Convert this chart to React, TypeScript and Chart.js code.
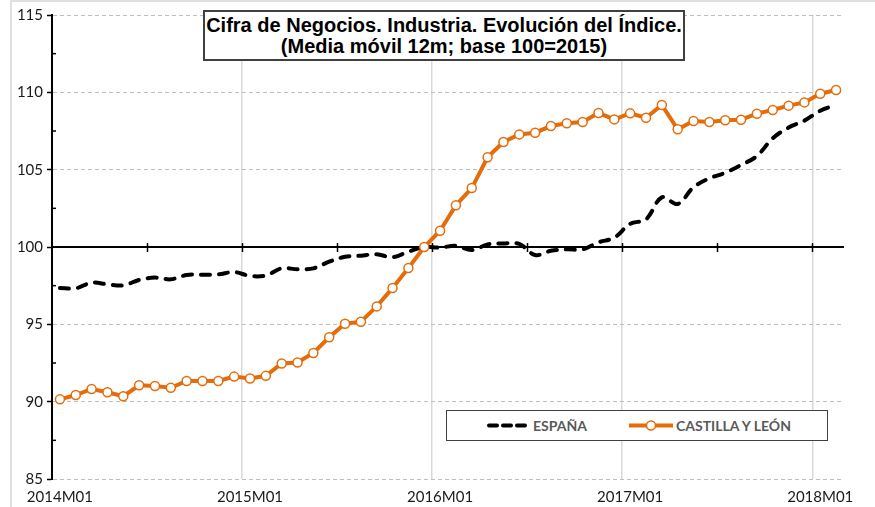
import React, { useEffect, useRef } from "react";
import { Chart, registerables } from "chart.js";

Chart.register(...registerables);

const labels: string[] = [
  "2014M01", "2014M02", "2014M03", "2014M04", "2014M05", "2014M06", "2014M07", "2014M08", "2014M09", "2014M10", "2014M11", "2014M12",
  "2015M01", "2015M02", "2015M03", "2015M04", "2015M05", "2015M06", "2015M07", "2015M08", "2015M09", "2015M10", "2015M11", "2015M12",
  "2016M01", "2016M02", "2016M03", "2016M04", "2016M05", "2016M06", "2016M07", "2016M08", "2016M09", "2016M10", "2016M11", "2016M12",
  "2017M01", "2017M02", "2017M03", "2017M04", "2017M05", "2017M06", "2017M07", "2017M08", "2017M09", "2017M10", "2017M11", "2017M12",
  "2018M01", "2018M02",
];

const espana: number[] = [
  97.35, 97.33, 97.69, 97.59, 97.52, 97.87, 98.02, 97.91, 98.19, 98.21, 98.23, 98.38,
  98.13, 98.16, 98.62, 98.56, 98.62, 99.05, 99.37, 99.44, 99.53, 99.34, 99.70, 100.0,
  99.96, 100.08, 99.80, 100.17, 100.23, 100.20, 99.48, 99.76, 99.85, 99.85, 100.30, 100.60,
  101.50, 101.79, 103.21, 102.78, 103.86, 104.44, 104.80, 105.30, 105.88, 107.03, 107.72, 108.17,
  108.81, 109.18,
];

const castillaLeon: number[] = [
  90.15, 90.43, 90.82, 90.61, 90.35, 91.06, 91.01, 90.90, 91.34, 91.34, 91.34, 91.62,
  91.50, 91.67, 92.47, 92.53, 93.15, 94.16, 95.04, 95.17, 96.16, 97.35, 98.64, 100.0,
  101.05, 102.70, 103.81, 105.80, 106.79, 107.28, 107.39, 107.82, 108.00, 108.08, 108.66, 108.25,
  108.64, 108.36, 109.18, 107.61, 108.15, 108.08, 108.19, 108.23, 108.62, 108.86, 109.14, 109.35,
  109.91, 110.15,
];

const seriesNames = ["ESPAÑA", "CASTILLA Y LEÓN"];
const titleLines = ["Cifra de Negocios. Industria. Evolución del Índice.", "(Media móvil 12m; base 100=2015)"];

const ORANGE = "#E46C0A";
const TICK_FONT = "Lato, 'Open Sans', sans-serif";

const midAxisPlugin = {
  id: "midAxis",
  beforeDatasetsDraw(chart: any) {
    const { ctx, chartArea, scales } = chart;
    const xs = scales.x;
    const ys = scales.y;
    const y0 = ys.getPixelForValue(100);
    const half = (xs.getPixelForValue(1) - xs.getPixelForValue(0)) / 2;
    ctx.save();
    ctx.strokeStyle = "#000";
    ctx.lineWidth = 2;
    ctx.beginPath();
    ctx.moveTo(chartArea.left, y0);
    ctx.lineTo(chartArea.right, y0);
    ctx.stroke();
    ctx.lineWidth = 1.5;
    for (let i = 6; i < labels.length; i += 6) {
      const px = Math.round(xs.getPixelForValue(i) - half) + 0.5;
      ctx.beginPath();
      ctx.moveTo(px, y0 - 4);
      ctx.lineTo(px, y0 + 5);
      ctx.stroke();
    }
    for (let v = 87.5; v < 115; v += 5) {
      const py = ys.getPixelForValue(v);
      ctx.beginPath();
      ctx.moveTo(chartArea.left, py);
      ctx.lineTo(chartArea.left + 4, py);
      ctx.stroke();
    }
    ctx.restore();
  },
};

export default function App() {
  const canvasRef = useRef<HTMLCanvasElement | null>(null);

  useEffect(() => {
    document.body.style.margin = "0";
    const canvas = canvasRef.current;
    if (!canvas) return;
    const chart = new Chart(canvas, {
      type: "line",
      data: {
        labels,
        datasets: [
          {
            label: seriesNames[1],
            data: castillaLeon,
            borderColor: ORANGE,
            borderWidth: 4,
            pointRadius: 4.5,
            pointBorderWidth: 1.5,
            pointBackgroundColor: "#ffffff",
            pointBorderColor: ORANGE,
            tension: 0,
          },
          {
            label: seriesNames[0],
            data: espana,
            borderColor: "#000000",
            borderWidth: 4,
            borderDash: [9, 9],
            borderCapStyle: "round",
            pointRadius: 0,
            tension: 0.35,
          },
        ],
      },
      options: {
        animation: false,
        responsive: true,
        maintainAspectRatio: false,
        layout: { padding: { top: 15, right: 31, left: 0, bottom: 0 } },
        plugins: {
          legend: { display: false },
          title: { display: false },
          tooltip: { enabled: false },
        },
        scales: {
          x: {
            type: "category",
            offset: true,
            afterFit: (s: any) => {
              s.height = 28;
            },
            grid: {
              offset: true,
              drawTicks: false,
              lineWidth: 1.5,
              color: (c: any) => (c.index !== undefined && c.index > 0 && c.index % 12 === 0 ? "#d9d9d9" : "rgba(0,0,0,0)"),
            },
            border: { display: false },
            ticks: {
              autoSkip: false,
              maxRotation: 0,
              minRotation: 0,
              padding: 9,
              color: "#1a1a1a",
              font: { family: TICK_FONT, size: 15 },
              callback: (_v: any, i: number) => (i % 12 === 0 ? labels[i] : ""),
            },
          },
          y: {
            min: 85,
            max: 115,
            afterFit: (s: any) => {
              s.width = 52;
            },
            grid: {
              color: (c: any) => {
                const v = c.tick ? c.tick.value : 0;
                return v % 5 === 0 && v !== 100 ? "#bfbfbf" : "rgba(0,0,0,0)";
              },
              lineWidth: 1,
              tickLength: 5,
              tickWidth: 1.5,
              tickColor: (c: any) => {
                const v = c.tick ? c.tick.value : 0;
                return v % 5 === 0 ? "#000000" : "rgba(0,0,0,0)";
              },
            },
            border: { display: true, color: "#000000", width: 2, dash: [4, 3] },
            ticks: {
              stepSize: 2.5,
              padding: 4,
              color: "#1a1a1a",
              font: { family: TICK_FONT, size: 15 },
              callback: (v: any) => (Number(v) % 5 === 0 ? String(v) : ""),
            },
          },
        },
      },
      plugins: [midAxisPlugin],
    });
    return () => chart.destroy();
  }, []);

  return (
    <div style={{ position: "fixed", left: 0, top: 0, width: 875, height: 507, background: "#ffffff", overflow: "hidden" }}>
      <div style={{ position: "absolute", left: 10, top: 0, width: 880, height: 520, borderLeft: "2px solid #e0e0e0", borderTop: "2px solid #e0e0e0" }} />
      <canvas ref={canvasRef} style={{ position: "absolute", left: 0, top: 0, width: 875, height: 507 }} />
      <div
        style={{
          position: "absolute",
          left: 203,
          top: 10,
          width: 482,
          height: 51,
          boxSizing: "border-box",
          border: "2px solid #404040",
          background: "#ffffff",
          fontFamily: "'Liberation Sans', Arial, sans-serif",
          fontWeight: "bold",
          fontSize: 20,
          lineHeight: "21px",
          textAlign: "center",
          color: "#000000",
          paddingTop: 3,
        }}
      >
        <div>{titleLines[0]}</div>
        <div>{titleLines[1]}</div>
      </div>
      <div
        style={{
          position: "absolute",
          left: 446,
          top: 410,
          width: 382,
          height: 31,
          boxSizing: "border-box",
          border: "1.5px solid #404040",
          background: "#ffffff",
          fontFamily: TICK_FONT,
          fontWeight: "bold",
          fontSize: 14,
          color: "#595959",
        }}
      >
        <svg width={382} height={31} style={{ position: "absolute", left: -1.5, top: -1.5 }}>
          <line x1={43} y1={15.5} x2={80} y2={15.5} stroke="#000" strokeWidth={4} strokeDasharray="8 6" strokeLinecap="round" />
          <line x1={183} y1={15.5} x2={227} y2={15.5} stroke={ORANGE} strokeWidth={4} />
          <circle cx={205} cy={15.5} r={4.5} fill="#fff" stroke={ORANGE} strokeWidth={1.5} />
        </svg>
        <span style={{ position: "absolute", left: 86, top: 6 }}>{seriesNames[0]}</span>
        <span style={{ position: "absolute", left: 229, top: 6 }}>{seriesNames[1]}</span>
      </div>
    </div>
  );
}
